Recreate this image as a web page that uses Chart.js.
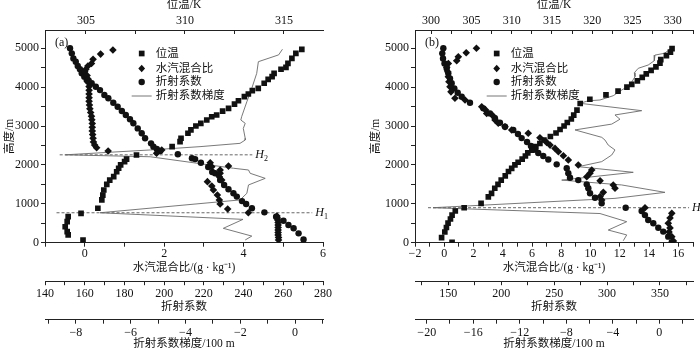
<!DOCTYPE html>
<html>
<head>
<meta charset="utf-8">
<script src="https://cdn.jsdelivr.net/npm/chart.js@4.4.1/dist/chart.umd.min.js"></script>
<style>
body { margin: 0; background: #fff; }
#wrap { position: relative; width: 700px; height: 350px; }
canvas { position: absolute; top: 0; }
</style>
</head>
<body>
<div id="wrap">
  <canvas id="chartA" width="350" height="350" style="left:0"></canvas>
  <canvas id="chartB" width="350" height="350" style="left:350px"></canvas>
</div>
<script>
// ---------- panel (a) ----------
// potential temperature (K) and height (m)
var aThetaVal = [315.9, 315.6, 315.4, 315.2, 315.1, 314.85, 314.5, 314.4, 314.2, 314.0, 313.7, 313.4, 313.2, 313.0, 312.7, 312.5, 312.2, 311.9, 311.6, 311.35, 311.1, 310.8, 310.55, 310.3, 310.15, 309.8, 309.75, 309.35, 307.55, 307.05, 306.95, 306.75, 306.65, 306.55, 306.4, 306.2, 306.05, 305.9, 305.85, 305.8, 305.6, 304.75, 304.1, 304.05, 303.95, 304.05, 304.1, 304.85];
var aThetaHgt = [4970, 4870, 4740, 4610, 4510, 4460, 4355, 4270, 4200, 4100, 3970, 3910, 3825, 3755, 3650, 3565, 3455, 3385, 3285, 3240, 3155, 3070, 3000, 2900, 2815, 2685, 2600, 2470, 2255, 2150, 2085, 2000, 1915, 1825, 1700, 1610, 1500, 1355, 1225, 1100, 885, 755, 670, 540, 410, 285, 200, 70];
// water vapour mixing ratio (g/kg)
var aMixVal = [0.71, 0.40, 0.21, 0.17, 0.08, 0.03, 0.00, 0.06, 0.09, 0.10, 0.11, 0.11, 0.11, 0.11, 0.11, 0.12, 0.13, 0.15, 0.17, 0.18, 0.19, 0.19, 0.19, 0.20, 0.21, 0.22, 0.25, 0.30, 0.59, 1.94, 1.81, 3.16, 3.62, 3.20, 3.41, 3.41, 3.39, 3.45, 3.09, 3.20, 3.24, 3.34, 3.39, 3.41, 3.60, 4.12, 4.84, 4.85, 4.86, 4.87, 4.87, 4.87, 4.87, 4.87, 4.87, 4.88, 4.88];
var aMixHgt = [4955, 4850, 4715, 4610, 4545, 4460, 4395, 4300, 4205, 4110, 4015, 3920, 3825, 3730, 3635, 3540, 3445, 3350, 3255, 3160, 3065, 2970, 2875, 2780, 2685, 2590, 2510, 2440, 2360, 2385, 2300, 2055, 1970, 1955, 1870, 1785, 1695, 1610, 1570, 1460, 1355, 1225, 1100, 995, 865, 770, 685, 635, 585, 520, 455, 390, 325, 260, 200, 135, 70];
// refractivity
var aRefVal = [152.6, 153.5, 154.3, 155.5, 156.5, 157.6, 158.5, 159.8, 161.0, 163.5, 165.6, 167.7, 169.9, 171.9, 174.4, 176.6, 178.7, 180.7, 182.8, 184.5, 186.7, 188.7, 190.4, 193.4, 194.6, 196.3, 198.0, 206.9, 214.0, 215.6, 218.5, 222.2, 224.2, 225.7, 228.2, 230.2, 232.4, 234.9, 236.6, 239.2, 241.3, 244.2, 250.5, 256.4, 260.1, 262.6, 265.2, 267.7, 270.2];
var aRefHgt = [5000, 4870, 4740, 4655, 4545, 4460, 4355, 4270, 4185, 4100, 4010, 3925, 3800, 3715, 3600, 3495, 3385, 3285, 3175, 3070, 2940, 2815, 2685, 2555, 2470, 2410, 2360, 2275, 2170, 2150, 2055, 1945, 1820, 1785, 1610, 1485, 1375, 1270, 1185, 1070, 995, 885, 780, 670, 565, 455, 370, 240, 85];
// refractivity gradient (per 100 m)
var aGradVal = [-0.46, -0.6, -1.34, -1.40, -1.58, -1.76, -1.95, -1.98, -1.82, -1.89, -1.82, -1.82, -2.01, -3.47, -5.29, -8.39, -5.29, -2.25, -1.70, -1.64, -1.09, -1.70, -1.76, -2.01, -7.12, -1.90, -2.62, -1.58, -1.82];
var aGradHgt = [4975, 4830, 4655, 4355, 3970, 3625, 3240, 3155, 3070, 2940, 2685, 2640, 2555, 2470, 2385, 2260, 2210, 1915, 1870, 1785, 1655, 1485, 1270, 1100, 770, 600, 370, 170, 70];
// ducting layer heights and their extent on the mixing-ratio axis
var aLayerName = ['2', '1'];
var aLayerHgt = [2260, 770];
var aLayerFrom = [-0.63, -0.71];
var aLayerTo = [4.22, 5.73];

// ---------- panel (b) ----------
var bThetaVal = [329.9, 329.7, 329.2, 328.5, 328.4, 327.9, 327.3, 326.7, 326.2, 325.6, 324.9, 324.3, 323.2, 321.7, 319.7, 318.5, 318.1, 317.7, 317.4, 316.9, 316.5, 316.0, 315.5, 314.8, 314.0, 313.5, 313.0, 312.5, 312.0, 311.7, 311.3, 310.8, 310.4, 310.0, 309.6, 309.2, 308.7, 308.3, 307.9, 307.5, 307.1, 306.2, 304.1, 303.0, 302.6, 302.4, 302.1, 301.9, 301.7, 301.3, 302.6];
var bThetaHgt = [4990, 4900, 4810, 4710, 4620, 4520, 4430, 4340, 4250, 4160, 4070, 4000, 3900, 3800, 3690, 3580, 3410, 3280, 3180, 3090, 3000, 2910, 2820, 2730, 2640, 2550, 2470, 2380, 2310, 2230, 2150, 2070, 2000, 1910, 1830, 1720, 1610, 1500, 1400, 1270, 1180, 1010, 900, 815, 710, 610, 505, 390, 275, 130, 10];
var bMixVal = [2.2, 1.5, 0.96, 0.85, 0.28, 0.17, 0.24, 0.28, 0.32, 0.39, 0.46, 0.73, 1.42, 2.56, 2.83, 2.9, 3.35, 3.47, 3.69, 4.15, 4.61, 5.74, 6.54, 7.0, 7.23, 7.57, 7.8, 8.14, 8.48, 9.16, 10.08, 9.96, 9.74, 10.65, 11.55, 11.67, 10.87, 10.65, 10.76, 13.72, 15.55, 15.43, 15.31, 15.43, 15.36, 15.55, 15.66];
var bMixHgt = [5000, 4885, 4780, 4680, 4610, 4510, 4395, 4270, 4140, 4010, 3880, 3715, 3670, 3495, 3410, 3325, 3255, 3155, 3070, 2980, 2900, 2815, 2700, 2580, 2510, 2425, 2340, 2235, 2125, 2000, 1870, 1785, 1695, 1595, 1485, 1400, 1295, 1185, 1100, 900, 755, 635, 500, 380, 275, 155, 45];
var bRefVal = [145.3, 144.3, 145.0, 146.4, 148.5, 150.0, 151.6, 153.2, 155.7, 158.9, 162.7, 170.5, 183.1, 189.4, 194.1, 198.8, 203.6, 211.4, 215.8, 219.3, 224.4, 228.1, 231.9, 235.0, 239.7, 244.5, 252.4, 261.9, 263.4, 265.0, 272.8, 280.8, 282.3, 283.9, 288.6, 294.9, 317.6, 332.7, 335.8, 338.9, 343.7, 348.4, 353.1, 357.8, 361.1];
var bRefHgt = [5000, 4870, 4740, 4610, 4480, 4355, 4225, 4100, 3970, 3855, 3755, 3600, 3455, 3325, 3200, 3085, 2980, 2900, 2795, 2690, 2590, 2485, 2395, 2305, 2230, 2140, 2015, 1915, 1785, 1670, 1610, 1500, 1400, 1270, 1155, 1015, 900, 815, 710, 585, 500, 385, 285, 155, 10];
var bGradVal = [1.07, 0.43, -0.37, -0.43, -0.95, -1.81, -2.15, -2.09, -2.52, -3.23, -3.96, -5.10, -6.10, -6.82, -1.51, -3.81, -3.38, -4.09, -7.25, -4.95, -4.67, -4.39, -3.81, -4.09, -4.95, -6.96, -2.24, -8.39, -3.23, 0.49, -3.81, -19.46, -5.10, -2.80, -4.39, -2.80, -3.10];
var bGradHgt = [5000, 4870, 4825, 4680, 4570, 4485, 4370, 4270, 4055, 3925, 3780, 3670, 3650, 3585, 3395, 3285, 3175, 3050, 2900, 2710, 2640, 2510, 2385, 2255, 2085, 1955, 1810, 1610, 1485, 1295, 1140, 900, 750, 540, 325, 200, 50];
var bLayerName = ['1'];
var bLayerHgt = [900];
var bLayerFrom = [-1.11];
var bLayerTo = [16.73];

// height axis ticks (labelled every 1000 m)
var heightTicks = [0, 500, 1000, 1500, 2000, 2500, 3000, 3500, 4000, 4500, 5000];
var legendLabels = ['位温', '水汽混合比', '折射系数', '折射系数梯度'];

Chart.defaults.font.family = '"Liberation Serif", "Noto Sans CJK SC", serif';
Chart.defaults.font.size = 12;
Chart.defaults.color = '#111';

var INK = '#111';
var AXIS = '#222';

function pts(xs, ys) {
  return xs.map(function (v, i) { return { x: v, y: ys[i] }; });
}

function tickLabel(v, every) {
  var r = v / every;
  if (Math.abs(r - Math.round(r)) > 1e-6) return '';
  var s = String(Math.round(v * 100) / 100);
  return s.replace('-', '\u2212');
}

function hAxis(o) {
  return {
    type: 'linear',
    position: o.pos,
    weight: o.weight,
    min: o.min,
    max: o.max,
    grid: { drawOnChartArea: false, drawTicks: true, tickLength: o.tl, color: AXIS, tickWidth: 1 },
    border: { display: true, color: AXIS, width: 1 },
    ticks: {
      stepSize: o.step, includeBounds: false, autoSkip: false, maxRotation: 0,
      padding: o.tp, color: INK,
      callback: function (v) { return tickLabel(v, o.every); }
    },
    title: { display: true, text: o.title, color: INK, font: { size: 11.5 }, padding: o.titlePad },
    afterFit: function (s) { s.height = o.h; }
  };
}

function yAxis(width, titlePad) {
  return {
    type: 'linear',
    position: 'left',
    min: 0,
    max: 5470,
    grid: { drawOnChartArea: false, drawTicks: true, tickLength: 4, color: AXIS },
    border: { display: true, color: AXIS, width: 1 },
    ticks: {
      autoSkip: false, padding: 2, color: INK,
      callback: function (v) { return tickLabel(v, 1000); }
    },
    afterBuildTicks: function (s) {
      s.ticks = heightTicks.map(function (v) { return { value: v }; });
    },
    title: { display: true, text: '高度/m', color: INK, font: { size: 11.5 }, padding: { top: titlePad, bottom: 0 } },
    afterFit: function (s) { s.width = width; }
  };
}

function decoPlugin(cfg) {
  return {
    id: 'deco',
    afterDraw: function (chart) {
      var ctx = chart.ctx;
      ctx.save();
      ctx.fillStyle = INK;
      ctx.textBaseline = 'middle';
      ctx.textAlign = 'left';
      ctx.font = '12px "Liberation Serif"';
      ctx.fillText(cfg.panel, cfg.panelX, 43);

      // legend
      var rows = [53.5, 68.5, 82, 96];
      var mx = cfg.legendX;
      ctx.fillRect(mx - 2.85, rows[0] - 2.85, 5.7, 5.7);
      ctx.beginPath();
      ctx.moveTo(mx, rows[1] - 3.8); ctx.lineTo(mx + 3.4, rows[1]);
      ctx.lineTo(mx, rows[1] + 3.8); ctx.lineTo(mx - 3.4, rows[1]);
      ctx.closePath(); ctx.fill();
      ctx.beginPath(); ctx.arc(mx, rows[2], 3.2, 0, Math.PI * 2); ctx.fill();
      ctx.strokeStyle = '#666'; ctx.lineWidth = 0.9;
      ctx.beginPath(); ctx.moveTo(mx - 10, rows[3]); ctx.lineTo(mx + 10, rows[3]); ctx.stroke();
      ctx.font = '11.5px "Liberation Serif", "Noto Sans CJK SC"';
      legendLabels.forEach(function (t, i) { ctx.fillText(t, mx + 14, rows[i]); });

      // layer labels H1 / H2
      var xs = chart.scales.x, ys = chart.scales.y;
      cfg.names.forEach(function (nm, i) {
        var px = xs.getPixelForValue(cfg.to[i]) + 3;
        var py = ys.getPixelForValue(cfg.hgt[i]);
        ctx.font = 'italic 12px "Liberation Serif"';
        ctx.fillText('H', px, py);
        var w = ctx.measureText('H').width;
        ctx.font = '8px "Liberation Serif"';
        ctx.fillText(nm, px + w, py + 4);
      });
      ctx.restore();
    }
  };
}

function makePanel(canvasId, d) {
  var datasets = [
    { label: '位温', data: pts(d.thetaVal, d.thetaHgt), xAxisID: 'xT', yAxisID: 'y',
      pointStyle: 'rect', pointRadius: 4, backgroundColor: INK, borderColor: INK, borderWidth: 0 },
    { label: '水汽混合比', data: pts(d.mixVal, d.mixHgt), xAxisID: 'x', yAxisID: 'y',
      pointStyle: 'rectRot', pointRadius: 3.8, backgroundColor: INK, borderColor: INK, borderWidth: 0 },
    { label: '折射系数', data: pts(d.refVal, d.refHgt), xAxisID: 'xN', yAxisID: 'y',
      pointStyle: 'circle', pointRadius: 3.2, backgroundColor: INK, borderColor: INK, borderWidth: 0 },
    { label: '折射系数梯度', data: pts(d.gradVal, d.gradHgt), xAxisID: 'xG', yAxisID: 'y',
      showLine: true, pointRadius: 0, borderColor: '#6a6a6a', borderWidth: 0.9, tension: 0 }
  ];
  d.layerHgt.forEach(function (h, i) {
    datasets.push({ label: 'H' + d.layerName[i], data: [{ x: d.layerFrom[i], y: h }, { x: d.layerTo[i], y: h }],
      xAxisID: 'x', yAxisID: 'y', showLine: true, pointRadius: 0,
      borderColor: '#555', borderWidth: 0.9, borderDash: [3, 2] });
  });

  return new Chart(document.getElementById(canvasId), {
    type: 'scatter',
    data: { datasets: datasets },
    options: {
      responsive: false,
      animation: false,
      devicePixelRatio: 1,
      events: [],
      layout: { padding: { left: 0, right: d.padRight, top: 0, bottom: 0 } },
      plugins: { legend: { display: false }, tooltip: { enabled: false } },
      scales: {
        y: yAxis(d.yWidth, d.yTitlePad),
        xT: hAxis({ pos: 'top', weight: 0, min: d.thetaMin, max: d.thetaMax, step: 2.5, every: 5,
          title: '位温/K', h: 30, tl: -4, tp: 6.3, titlePad: { top: -1.9, bottom: 0 } }),
        x: hAxis({ pos: 'bottom', weight: 0, min: d.mixMin, max: d.mixMax, step: 1, every: 2,
          title: '水汽混合比/(g · kg⁻¹)', h: 38.5, tl: 4, tp: 0.1, titlePad: { top: 0, bottom: 6 } }),
        xN: hAxis({ pos: 'bottom', weight: 1, min: d.refMin, max: d.refMax, step: d.refStep, every: d.refEvery,
          title: '折射系数', h: 38.5, tl: 4, tp: 1.6, titlePad: { top: 0, bottom: 6.1 } }),
        xG: hAxis({ pos: 'bottom', weight: 2, min: d.gradMin, max: d.gradMax, step: d.gradStep, every: d.gradEvery,
          title: '折射系数梯度/100 m', h: 30.3, tl: 4, tp: 1.8, titlePad: { top: 0, bottom: -0.9 } })
      }
    },
    plugins: [decoPlugin({ panel: d.panel, panelX: d.panelX, legendX: d.legendX,
      names: d.layerName, hgt: d.layerHgt, to: d.layerTo })]
  });
}

makePanel('chartA', {
  panel: '(a)', panelX: 55, legendX: 141.7, padRight: 27, yWidth: 45, yTitlePad: 3.1,
  thetaVal: aThetaVal, thetaHgt: aThetaHgt, mixVal: aMixVal, mixHgt: aMixHgt,
  refVal: aRefVal, refHgt: aRefHgt, gradVal: aGradVal, gradHgt: aGradHgt,
  layerName: aLayerName, layerHgt: aLayerHgt, layerFrom: aLayerFrom, layerTo: aLayerTo,
  thetaMin: 302.93, thetaMax: 316.97, mixMin: -1, mixMax: 6,
  refMin: 140, refMax: 280, refStep: 10, refEvery: 20,
  gradMin: -9.13, gradMax: 1.02, gradStep: 1, gradEvery: 2
});

makePanel('chartB', {
  panel: '(b)', panelX: 75, legendX: 146.7, padRight: 7, yWidth: 65, yTitlePad: 19.1,
  thetaVal: bThetaVal, thetaHgt: bThetaHgt, mixVal: bMixVal, mixHgt: bMixHgt,
  refVal: bRefVal, refHgt: bRefHgt, gradVal: bGradVal, gradHgt: bGradHgt,
  layerName: bLayerName, layerHgt: bLayerHgt, layerFrom: bLayerFrom, layerTo: bLayerTo,
  thetaMin: 298.0, thetaMax: 332.5, mixMin: -2, mixMax: 17,
  refMin: 118.54, refMax: 381.2, refStep: 25, refEvery: 50,
  gradMin: -21.01, gradMax: 2.9, gradStep: 2, gradEvery: 4
});
</script>
</body>
</html>
